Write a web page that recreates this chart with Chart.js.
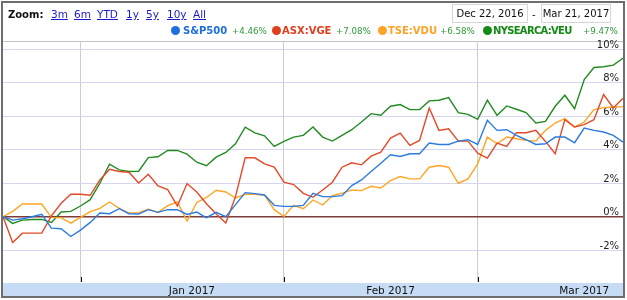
<!DOCTYPE html>
<html>
<head>
<meta charset="utf-8">
<title>S&amp;P500 vs ASX:VGE vs TSE:VDU vs NYSEARCA:VEU</title>
<script src="https://cdn.jsdelivr.net/npm/chart.js@4.4.1/dist/chart.umd.min.js"></script>
<style>
body { margin: 0; background: #fff; font-family: "DejaVu Sans", Verdana, sans-serif; }
#wrap { position: relative; width: 627px; height: 300px; overflow: hidden; }
#chart { position: absolute; left: 0; top: 0; }
#border { position: absolute; left: 1px; top: 1px; width: 624px; height: 297px; box-sizing: border-box; border: 2px solid #6e6e6e; pointer-events: none; }
.abs { position: absolute; white-space: nowrap; }
.zoom { top: 9px; font-size: 10px; font-weight: bold; line-height: 12px; color: #111; }
.lnk { top: 8px; font-size: 10.5px; line-height: 13px; color: #1a1acc; text-decoration: underline; }
.datebox { top: 4px; height: 19px; box-sizing: border-box; border: 1px solid #d6d6d6; font-size: 10px; line-height: 17px; text-align: center; color: #111; }
.dash { left: 532px; top: 8px; font-size: 10px; line-height: 13px; color: #111; }
.dot { top: 26px; width: 9px; height: 9px; border-radius: 50%; }
.name { top: 24px; font-size: 10px; font-weight: bold; line-height: 13px; }
.pct { top: 25px; font-size: 8.7px; line-height: 12px; color: #2f9a3a; }
</style>
</head>
<body>
<div id="wrap">
  <canvas id="chart" width="627" height="300"></canvas>

  <div class="abs zoom" style="left:8px">Zoom:</div>
  <span class="abs lnk" style="left:51px">3m</span>
  <span class="abs lnk" style="left:74px">6m</span>
  <span class="abs lnk" style="left:97px">YTD</span>
  <span class="abs lnk" style="left:126px">1y</span>
  <span class="abs lnk" style="left:146px">5y</span>
  <span class="abs lnk" style="left:167px">10y</span>
  <span class="abs lnk" style="left:193px">All</span>

  <div class="abs datebox" style="left:452px;width:76px">Dec 22, 2016</div>
  <div class="abs dash">-</div>
  <div class="abs datebox" style="left:541px;width:70px">Mar 21, 2017</div>

  <div class="abs dot" style="left:171px;background:#1e6fdc"></div>
  <div class="abs name" style="left:183px;color:#1e6fdc">S&amp;P500</div>
  <div class="abs pct" style="left:232px">+4.46%</div>

  <div class="abs dot" style="left:272px;background:#e03e1c"></div>
  <div class="abs name" style="left:282px;color:#e03e1c">ASX:VGE</div>
  <div class="abs pct" style="left:336px">+7.08%</div>

  <div class="abs dot" style="left:378px;background:#ffa326"></div>
  <div class="abs name" style="left:388px;color:#ffa326">TSE:VDU</div>
  <div class="abs pct" style="left:440px">+6.58%</div>

  <div class="abs dot" style="left:483px;background:#138a13"></div>
  <div class="abs name" style="left:493px;color:#138a13;letter-spacing:-0.7px">NYSEARCA:VEU</div>
  <div class="abs pct" style="left:583px">+9.47%</div>

  <div id="border"></div>
</div>

<script>
// x axis: trading days 0..64, month boundaries and label spots in day index units
const monthLabels = ['Jan 2017', 'Feb 2017', 'Mar 2017'];
const monthStarts = [8, 29, 49];
const monthLabelAt = [19.5, 40, 60];
const yTicks = [-2, 0, 2, 4, 6, 8, 10];

// % change since Dec 22, 2016
const sp500 = [0, -0.2, -0.12, 0.0, 0.14, -0.68, -0.72, -1.18, -0.8, -0.34,
    0.22, 0.18, 0.48, 0.18, 0.16, 0.42, 0.26, 0.42, 0.42, 0.14,
    0.28, -0.06, 0.26, 0.0, 0.72, 1.44, 1.38, 1.3, 0.68, 0.62,
    0.62, 0.68, 1.4, 1.2, 1.2, 1.26, 1.86, 2.2, 2.7, 3.2,
    3.7, 3.6, 3.76, 3.76, 4.4, 4.32, 4.32, 4.52, 4.6, 4.32,
    5.76, 5.16, 5.2, 4.86, 4.6, 4.32, 4.36, 4.76, 4.76, 4.42,
    5.3, 5.16, 5.06, 4.86, 4.46];

const asxVge = [0, -1.54, -0.98, -0.98, -0.98, 0.05, 0.8, 1.34, 1.34, 1.28,
    2.2, 2.84, 2.7, 2.66, 2.02, 2.54, 1.84, 1.62, 0.64, 1.98,
    1.48, 0.78, 0.18, -0.38, 1.2, 3.52, 3.52, 3.16, 2.96, 2.06,
    1.92, 1.4, 1.16, 1.6, 2.06, 2.96, 3.22, 3.1, 3.62, 3.86,
    4.7, 5.0, 4.26, 4.56, 6.5, 5.16, 5.26, 4.52, 4.52, 3.8,
    3.5, 4.4, 4.2, 5.02, 5.02, 5.16, 4.5, 3.76, 5.8, 5.36,
    5.5, 5.8, 7.3, 6.5, 7.08];

const tseVdu = [0, 0.32, 0.76, 0.76, 0.76, -0.04, -0.06, -0.38, -0.04, 0.3,
    0.5, 0.88, 0.5, 0.22, 0.24, 0.45, 0.26, 0.66, 0.88, -0.26,
    0.85, 1.15, 1.58, 1.48, 1.12, 1.34, 1.34, 1.28, 0.42, 0.02,
    0.68, 0.48, 1.0, 0.7, 1.26, 1.4, 1.6, 1.56, 1.82, 1.72,
    2.16, 2.4, 2.26, 2.26, 2.96, 3.06, 2.96, 2.0, 2.26, 3.16,
    4.76, 4.36, 4.76, 4.66, 4.56, 4.52, 5.16, 5.6, 5.86, 5.36,
    5.66, 6.4, 6.52, 6.56, 6.58];

const nyseVeu = [0, -0.4, -0.2, -0.17, -0.16, -0.34, 0.28, 0.32, 0.64, 1.02,
    2.0, 3.14, 2.8, 2.7, 2.72, 3.53, 3.58, 3.96, 3.96, 3.74,
    3.26, 3.05, 3.56, 3.84, 4.36, 5.35, 5.01, 4.83, 4.2, 4.5,
    4.76, 4.86, 5.36, 4.76, 4.52, 4.86, 5.2, 5.66, 6.16, 6.06,
    6.6, 6.7, 6.4, 6.4, 6.92, 6.96, 7.12, 6.22, 6.12, 5.82,
    6.96, 6.06, 6.62, 6.42, 6.22, 5.6, 5.7, 6.6, 7.26, 6.46,
    8.2, 8.92, 8.96, 9.06, 9.47];

function toPoints(values) {
    return values.map((v, i) => ({ x: i, y: v }));
}

function line(label, values, color) {
    return {
        label: label,
        data: toPoints(values),
        borderColor: color,
        borderWidth: 1.4,
        pointRadius: 0,
        tension: 0,
        fill: false
    };
}

// band under the plot, top rule and the little month ticks
const frame = {
    id: 'frame',
    beforeDraw(chart) {
        const ctx = chart.ctx;
        const a = chart.chartArea;
        ctx.save();
        ctx.fillStyle = '#fff';
        ctx.fillRect(0, 0, chart.width, chart.height);
        ctx.fillStyle = '#c6dcf5';
        ctx.fillRect(a.left, a.bottom + 1, a.right - a.left, 15);
        ctx.strokeStyle = '#c4c4c4';
        ctx.lineWidth = 1;
        ctx.beginPath();
        ctx.moveTo(a.left, a.top + 0.5);
        ctx.lineTo(a.right, a.top + 0.5);
        ctx.stroke();
        ctx.restore();
    },
    afterDraw(chart) {
        const ctx = chart.ctx;
        const a = chart.chartArea;
        const x = chart.scales.x;
        ctx.save();
        ctx.strokeStyle = '#000';
        ctx.lineWidth = 1;
        monthStarts.forEach(m => {
            const px = Math.round(x.getPixelForValue(m)) + 0.5;
            ctx.beginPath();
            ctx.moveTo(px, a.bottom - 5);
            ctx.lineTo(px, a.bottom);
            ctx.stroke();
        });
        ctx.restore();
    }
};

const ctx = document.getElementById('chart').getContext('2d');
new Chart(ctx, {
    type: 'line',
    data: {
        datasets: [
            line('S&P500', sp500, '#2b7be0'),
            line('ASX:VGE', asxVge, '#e2492a'),
            line('TSE:VDU', tseVdu, '#ffa524'),
            line('NYSEARCA:VEU', nyseVeu, '#238a23')
        ]
    },
    options: {
        responsive: false,
        animation: false,
        layout: { padding: { left: 3, top: 41, right: 4, bottom: 0 } },
        plugins: {
            legend: { display: false },
            tooltip: { enabled: false }
        },
        scales: {
            x: {
                type: 'linear',
                min: 0,
                max: 64,
                position: 'bottom',
                afterBuildTicks: s => { s.ticks = monthStarts.map(v => ({ value: v })); },
                ticks: { display: false },
                grid: { color: '#c9d0c9', drawTicks: false },
                border: { display: false },
                afterFit: s => { s.height = 0; }
            },
            x2: {
                type: 'linear',
                min: 0,
                max: 64,
                position: 'bottom',
                afterBuildTicks: s => { s.ticks = monthLabelAt.map(v => ({ value: v })); },
                ticks: {
                    autoSkip: false,
                    maxRotation: 0,
                    padding: 3,
                    color: '#111',
                    font: { family: 'DejaVu Sans', size: 10.5 },
                    callback: (v, i) => monthLabels[i]
                },
                grid: { display: false, drawTicks: false },
                border: { display: false },
                afterFit: s => { s.height = 18; }
            },
            y: {
                min: -3.9,
                max: 10.5,
                position: 'right',
                afterBuildTicks: s => { s.ticks = yTicks.map(v => ({ value: v })); },
                ticks: {
                    mirror: true,
                    padding: -4,
                    labelOffset: -4,
                    color: '#222',
                    font: { family: 'DejaVu Sans', size: 10 },
                    callback: v => v + '%'
                },
                grid: {
                    color: c => (c.tick && c.tick.value === 0) ? '#7d3b3b' : '#d6d6f0',
                    lineWidth: c => (c.tick && c.tick.value === 0) ? 1.5 : 1,
                    drawTicks: false
                },
                border: { display: false },
                afterFit: s => { s.width = 0; }
            }
        }
    },
    plugins: [frame]
});
</script>
</body>
</html>
